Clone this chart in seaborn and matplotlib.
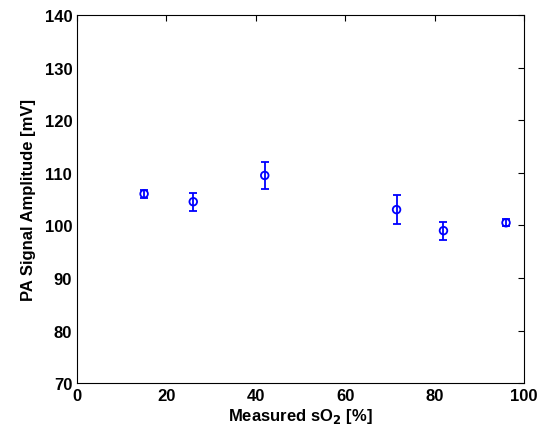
import matplotlib
matplotlib.use("Agg")
import matplotlib.pyplot as plt
import seaborn as sns
import pandas as pd

so2 = [15, 26, 42, 71.5, 82, 96]
amplitude = [106.0, 104.5, 109.5, 103.0, 99.0, 100.5]
err = [0.8, 1.7, 2.5, 2.7, 1.7, 0.7]

sns.set_style("white")
plt.rcParams['font.family'] = ['Liberation Sans', 'DejaVu Sans']
plt.rcParams['font.weight'] = 'bold'
plt.rcParams['text.color'] = 'black'
plt.rcParams['axes.labelcolor'] = 'black'
plt.rcParams['xtick.color'] = 'black'
plt.rcParams['ytick.color'] = 'black'

df = pd.DataFrame({'so2': so2, 'amp': amplitude, 'err': err})

fig = plt.figure(figsize=(5.39, 4.35), dpi=100)
ax = fig.add_axes([0.143, 0.117, 0.829, 0.846])
ax.errorbar(df['so2'], df['amp'], yerr=df['err'], fmt='none', ecolor='#0000ff',
            elinewidth=1.3, capsize=3, capthick=1.3)
sns.scatterplot(data=df, x='so2', y='amp', ax=ax, marker='o', s=30,
                facecolors='none', edgecolor='#0000ff', linewidth=1.3, zorder=3)

ax.set_xlim(0, 100)
ax.set_ylim(70, 140)
ax.set_xticks(range(0, 101, 20))
ax.set_yticks(range(70, 141, 10))
ax.tick_params(direction='in', top=True, right=True, labelsize=12, length=4, width=0.8)
for s in ax.spines.values():
    s.set_color('black')
    s.set_linewidth(0.8)
for lab in ax.get_xticklabels() + ax.get_yticklabels():
    lab.set_fontweight('bold')
ax.set_xlabel('Measured sO$_\\mathbf{2}$ [%]', fontsize=12, fontweight='bold', labelpad=2)
ax.set_ylabel('PA Signal Amplitude [mV]', fontsize=12, fontweight='bold', labelpad=6)

fig.savefig('out.png', dpi=100)
